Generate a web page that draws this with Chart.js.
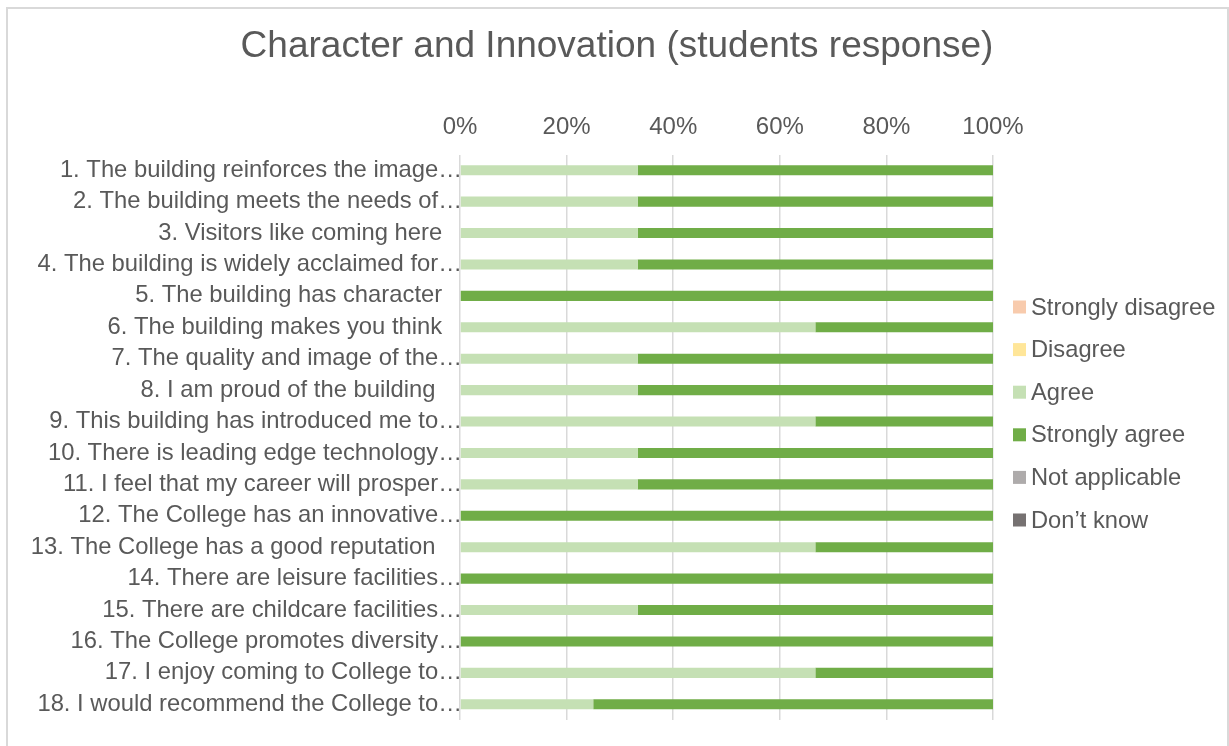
<!DOCTYPE html>
<html>
<head>
<meta charset="utf-8">
<script src="https://cdn.jsdelivr.net/npm/chart.js@4/dist/chart.umd.min.js"></script>
<style>
  html, body { margin: 0; padding: 0; background: #ffffff; }
  #wrap { position: relative; width: 1229px; height: 746px; }
</style>
</head>
<body>
<div id="wrap"><canvas id="chart" width="1229" height="746"></canvas></div>
<script>
// Survey statements (long ones shortened with an ellipsis, as on the axis)
const statements = [
  '1. The building reinforces the image…',
  '2. The building meets the needs of…',
  '3. Visitors like coming here   ',
  '4. The building is widely acclaimed for…',
  '5. The building has character   ',
  '6. The building makes you think   ',
  '7. The quality and image of the…',
  '8. I am proud of the building    ',
  '9. This building has introduced me to…',
  '10. There is leading edge technology…',
  '11. I feel that my career will prosper…',
  '12. The College has an innovative…',
  '13. The College has a good reputation    ',
  '14. There are leisure facilities…',
  '15. There are childcare facilities…',
  '16. The College promotes diversity…',
  '17. I enjoy coming to College to…',
  '18. I would recommend the College to…'
];

// Share of student answers per statement, in percent
const stronglyDisagree = [0, 0, 0, 0, 0, 0, 0, 0, 0, 0, 0, 0, 0, 0, 0, 0, 0, 0];
const disagree         = [0, 0, 0, 0, 0, 0, 0, 0, 0, 0, 0, 0, 0, 0, 0, 0, 0, 0];
const agree            = [33.33, 33.33, 33.33, 33.33, 0, 66.67, 33.33, 33.33, 66.67, 33.33, 33.33, 0, 66.67, 0, 33.33, 0, 66.67, 25];
const stronglyAgree    = [66.67, 66.67, 66.67, 66.67, 100, 33.33, 66.67, 66.67, 33.33, 66.67, 66.67, 100, 33.33, 100, 66.67, 100, 33.33, 75];
const notApplicable    = [0, 0, 0, 0, 0, 0, 0, 0, 0, 0, 0, 0, 0, 0, 0, 0, 0, 0];
const dontKnow         = [0, 0, 0, 0, 0, 0, 0, 0, 0, 0, 0, 0, 0, 0, 0, 0, 0, 0];

const responseNames = ['Strongly disagree', 'Disagree', 'Agree', 'Strongly agree', 'Not applicable', 'Don’t know'];
const responseColors = ['#F8CBAD', '#FFE699', '#C5E0B4', '#70AD47', '#AEABAB', '#767171'];
const percentTicks = ['0%', '20%', '40%', '60%', '80%', '100%'];
const chartTitle = 'Character and Innovation (students response)';

const TEXT = '#595959';
const FONT = '"Liberation Sans", Arial, sans-serif';

// Outer frame and heading, centred on the full canvas width
const framePlugin = {
  id: 'frame',
  beforeDraw(chart) {
    const ctx = chart.ctx;
    ctx.save();
    ctx.fillStyle = '#ffffff';
    ctx.fillRect(0, 0, chart.width, chart.height);
    ctx.strokeStyle = '#d9d9d9';
    ctx.lineWidth = 2;
    ctx.strokeRect(7, 8, 1221, 760);
    ctx.font = '37px ' + FONT;
    ctx.fillStyle = TEXT;
    ctx.textAlign = 'center';
    ctx.textBaseline = 'middle';
    ctx.fillText(chartTitle, 617, 47);
    ctx.restore();
  }
};

// Vertical legend to the right of the plot
const sideLegend = {
  id: 'sideLegend',
  afterDraw(chart) {
    const ctx = chart.ctx;
    const area = chart.chartArea;
    const x0 = area.right + 20;
    const yStart = 307;
    const step = 42.6;
    ctx.save();
    ctx.font = '23.7px ' + FONT;
    ctx.textBaseline = 'middle';
    ctx.textAlign = 'left';
    chart.data.datasets.forEach((ds, i) => {
      const cy = yStart + i * step;
      ctx.fillStyle = ds.backgroundColor;
      ctx.fillRect(x0, cy - 6.5, 13, 13);
      ctx.fillStyle = TEXT;
      ctx.fillText(ds.label, x0 + 18, cy + 1);
    });
    ctx.restore();
  }
};

const seriesValues = [stronglyDisagree, disagree, agree, stronglyAgree, notApplicable, dontKnow];

new Chart(document.getElementById('chart'), {
  type: 'bar',
  data: {
    labels: statements,
    datasets: responseNames.map((name, i) => ({
      label: name,
      data: seriesValues[i],
      backgroundColor: responseColors[i],
      borderWidth: 0,
      categoryPercentage: 1,
      barPercentage: 0.32
    }))
  },
  options: {
    indexAxis: 'y',
    responsive: false,
    animation: false,
    layout: { padding: { top: 84.5, right: 236, bottom: 26, left: 0 } },
    plugins: {
      legend: { display: false },
      tooltip: { enabled: false },
      title: { display: false }
    },
    scales: {
      x: {
        position: 'top',
        stacked: true,
        min: 0,
        max: 100,
        afterBuildTicks(scale) {
          scale.ticks = percentTicks.map((t, i) => ({ value: i * 20 }));
        },
        afterFit(scale) { scale.height = 70; },
        ticks: {
          color: TEXT,
          font: { family: FONT, size: 24 },
          padding: 13,
          callback(value, index) { return percentTicks[index]; }
        },
        grid: { color: '#d9d9d9', lineWidth: 1.5, drawTicks: false },
        border: { display: false }
      },
      y: {
        stacked: true,
        afterFit(scale) { scale.width = 460; },
        ticks: {
          color: TEXT,
          font: { family: FONT, size: 23.8 },
          padding: -2,
          autoSkip: false
        },
        grid: { display: false, drawTicks: false },
        border: { display: false }
      }
    }
  },
  plugins: [framePlugin, sideLegend]
});
</script>
</body>
</html>
